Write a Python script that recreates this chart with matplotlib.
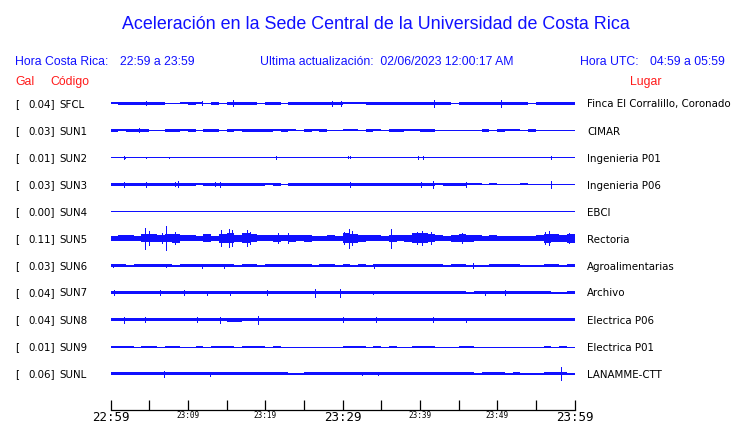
import matplotlib
matplotlib.use("Agg")
import matplotlib.pyplot as plt
import numpy as np

# estaciones
codes = ["SFCL", "SUN1", "SUN2", "SUN3", "SUN4", "SUN5", "SUN6", "SUN7", "SUN8", "SUN9", "SUNL"]
gal = [0.04, 0.03, 0.01, 0.03, 0.00, 0.11, 0.03, 0.04, 0.04, 0.01, 0.06]
places = ["Finca El Corralillo, Coronado", "CIMAR", "Ingenieria P01", "Ingenieria P06", "EBCI",
          "Rectoria", "Agroalimentarias", "Archivo", "Electrica P06", "Electrica P01", "LANAMME-CTT"]

# envolvente por minuto (media amplitud, px)
env_SFCL = [1.0,1.4,1.6,1.6,1.6,1.6,1.4,0.8,0.8,1.0, 1.2,1.0,0.8,1.4,0.9,1.4,1.6,1.4,1.1,0.8,
            1.2,1.2,0.9,1.4,1.6,1.6,1.6,1.6,1.7,1.7, 1.0,1.0,1.0,1.6,1.4,1.6,1.6,1.4,1.6,1.4,
            1.6,1.7,1.6,1.6,0.8,1.7,1.6,1.6,1.6,1.6, 1.7,1.6,1.6,1.6,0.8,1.4,1.4,1.2,1.2,1.2]
env_SUN1 = [1.1,1.0,1.1,1.3,1.2,0.9,0.8,1.5,1.5,1.0, 1.1,0.9,1.1,1.3,0.9,1.1,1.0,1.2,1.1,1.1,
            1.2,1.0,1.1,1.0,0.9,1.1,1.0,1.1,0.9,0.9, 1.0,1.0,0.8,1.3,1.0,0.7,1.2,1.2,1.0,1.0,
            1.1,1.1,0.7,0.9,0.5,0.8,0.9,0.9,1.1,0.8, 1.2,1.0,1.0,0.7,1.1,0.9,0.9,0.9,0.9,0.5]
env_SUN2 = [0,0,0,0,0,0,0,0,0,0, 0,0,0,0,0,0,0,0,0,0,
            0,0,0,0,0,0,0,0,0,0, 0,0,0,0,0,0,0,0,0,0,
            0,0,0,0,0,0,0,0,0,0, 0,0,0,0,0,0,0,0,0,0]
env_SUN3 = [1.5,1.5,1.5,1.5,1.5,1.5,1.5,1.5,1.5,1.5, 1.5,1.0,1.5,1.5,1.5,1.5,1.5,1.5,1.5,1.5,
            1.0,1.2,0.8,1.5,1.5,1.5,1.5,1.5,1.2,1.5, 1.5,1.5,1.5,1.5,1.5,1.5,1.5,1.2,1.5,1.5,
            1.5,1.5,1.0,1.2,1.2,1.2,1.0,1.0,0.8,1.0, 0.8,0.7,0.7,1.0,0.8,0.6,0.8,0.8,0.8,0.8]
env_SUN4 = [0,0,0,0,0,0,0,0,0,0, 0,0,0,0,0,0,0,0,0,0,
            0,0,0,0,0,0,0,0,0,0, 0,0,0,0,0,0,0,0,0,0,
            0,0,0,0,0,0,0,0,0,0, 0,0,0,0,0,0,0,0,0,0]
env_SUN5 = [2.5,3,3,2.5,4,4,3.5,4,4.5,3, 3,2.5,4,2.5,4.5,5,3.5,5,4,3,
            3,3.5,3,3.5,3,3.5,2.5,2.5,3,2.5, 5,4.5,3.5,3,3,2.5,3.5,3,3.5,5,
            5,4,3,2.5,3.5,4,3.5,3,2.5,3, 2.5,2.5,2.5,2.5,2.5,3,4.5,4,3.5,4.5]
env_SUN6 = [1.3,1.3,0.9,1.3,1.3,1.3,1.3,1.1,0.8,1.3, 1.1,1.1,1.1,1.1,1.1,1.1,0.7,1.3,1.3,0.9,
            1.1,1.3,1.3,1.3,1.3,1.3,0.7,1.3,1.3,0.9, 1.0,0.9,1.1,0.7,1.1,1.3,1.3,1.3,1.3,1.3,
            1.3,1.1,1.0,0.6,1.3,1.1,0.9,0.8,0.6,1.3, 1.3,1.1,1.0,0.6,0.8,0.6,1.1,1.0,0.7,1.1]
env_SUN7 = [1.6,1.6,1.6,1.6,1.6,1.6,1.6,1.6,1.6,1.6, 1.6,1.6,1.6,1.7,1.8,1.7,1.6,1.6,1.2,1.2,
            1.4,1.6,1.6,1.4,1.6,1.4,1.6,1.6,1.6,1.6, 1.6,1.6,1.2,1.2,1.2,1.2,1.1,1.1,1.4,1.6,
            1.6,1.6,1.6,1.8,1.6,1.6,0.9,1.0,1.4,1.4, 1.2,1.6,1.6,1.6,1.4,1.0,1.4,0.9,0.8,1.4]
env_SUN8 = [1.7,1.8,1.8,1.6,1.7,1.8,1.7,1.7,1.7,1.7, 1.7,1.8,1.8,1.8,1.8,2,2,1.6,1.9,1.9,
            1.8,1.8,1.6,1.6,1.6,1.8,1.8,1.6,1.8,1.6, 1.8,1.9,1.6,1.8,1.9,1.9,1.9,1.6,1.8,1.8,
            1.9,1.8,1.6,1.6,1.8,1.6,1.7,1.6,1.6,1.6, 1.6,1.6,1.6,1.6,1.7,1.6,1.7,1.6,1.6,1.6]
env_SUN9 = [0.8,1.0,0.7,0,1.0,0.6,0,1.0,0.6,0, 0,1.0,0,1.0,0.8,0.6,0,0.7,0.8,1.0,
            0,1.0,0,0,0,0,0,0,0,0, 1.0,1.0,0.6,0,0.6,0,0.6,0,0,1.0,
            0.8,0.8,0,0,0,0.8,0.8,0,0,0, 0,0,0,0,0,0,1.0,0,0.6,0]
env_SUNL = [1.3,1.3,1.3,1.3,1.3,1.3,1.4,1.3,1.3,1.3, 1.3,1.3,1.3,1.3,1.3,1.3,1.3,1.3,1.3,1.3,
            1.1,1.4,1.1,0.9,0.8,1.3,1.1,1.3,1.3,1.3, 1.1,1.3,1.3,1.3,1.3,1.3,1.3,1.3,1.3,1.3,
            1.3,1.3,1.3,1.3,1.3,1.1,1.1,0.8,1.1,1.1, 1.1,0.8,1.1,0.6,0.5,0.9,1.1,1.3,1.1,0.8]

# picos: (minuto, media amplitud px)
spk_SFCL = [(4.6, 2), (11.8, 2), (15.8, 3), (28.6, 2.5), (29.8, 2.5), (41.8, 3.8), (50.5, 3.3)]
spk_SUN1 = [(3.7, 2)]
spk_SUN2 = [(1.7, 1.2), (1.9, 0.8), (4.6, 0.8), (7.5, 0.8), (21.4, 1.2), (30.7, 1), (31.0, 1),
            (39.8, 1.2), (40.4, 1.2), (56.9, 1.5)]
spk_SUN3 = [(1.7, 2.5), (4.6, 2.2), (8.3, 2), (8.7, 3), (13.5, 2), (14.2, 2.5), (31.0, 2.2),
            (40.2, 2.2), (41.7, 3.5), (46.0, 2.5), (56.9, 3.5)]
spk_SUN4 = []
spk_SUN5 = [(4.5, 10.5), (5.0, 7), (6.7, 5), (7.2, 12), (8.3, 6), (14.3, 8), (15.3, 9), (15.7, 8),
            (17.6, 8), (18.0, 6), (21.6, 5), (23.0, 5), (30.2, 6), (30.8, 9.5), (31.2, 7),
            (36.3, 9.5), (39.6, 6), (40.3, 7), (41.5, 6), (45.5, 5), (56.2, 6), (56.7, 7), (59.3, 5)]
spk_SUN6 = [(0.3, 1.5), (7.2, 1.5), (11.8, 2), (14.7, 2), (34.1, 2), (46.9, 2.5)]
spk_SUN7 = [(0.4, 2.5), (6.4, 2.5), (9.5, 2.5), (12.5, 2), (15.5, 2), (20.3, 2.5), (26.4, 4),
            (29.7, 4), (34.0, 1.8), (48.4, 2), (51.0, 2.5)]
spk_SUN8 = [(1.8, 3), (4.5, 2.5), (11.2, 2.5), (14.2, 3), (19.1, 4), (30.0, 2.5), (34.3, 2.2),
            (41.7, 2.2), (46.0, 2)]
spk_SUN9 = []
spk_SUNL = [(6.9, 3), (12.9, 2), (32.5, 1.8), (34.6, 1.8), (58.3, 6.5)]

envs = [env_SFCL, env_SUN1, env_SUN2, env_SUN3, env_SUN4, env_SUN5, env_SUN6, env_SUN7,
        env_SUN8, env_SUN9, env_SUNL]
spikes = [spk_SFCL, spk_SUN1, spk_SUN2, spk_SUN3, spk_SUN4, spk_SUN5, spk_SUN6, spk_SUN7,
          spk_SUN8, spk_SUN9, spk_SUNL]

major_ticks = [0, 30, 60]
major_labels = ["22:59", "23:29", "23:59"]
minor_ticks = [5, 10, 15, 20, 25, 35, 40, 45, 50, 55]
minor_labels = ["", "23:09", "", "23:19", "", "", "23:39", "", "23:49", ""]

W, H = 740, 423
blue = "#1010ff"
red = "#ff1a1a"

fig = plt.figure(figsize=(W / 100, H / 100), dpi=100)

def px(x, y):
    return x / W, 1 - y / H

# ejes de las trazas
x0, x1, ytop, ybot = 110.5, 574.5, 90, 409.5
ax = fig.add_axes([x0 / W, 1 - ybot / H, (x1 - x0) / W, (ybot - ytop) / H])
row0, gap = 103.5, 27
ax.set_xlim(0, 60)
ax.set_ylim(ybot - row0, ytop - row0)

t = np.arange(61)
for i in range(len(codes)):
    yc = i * gap
    e = np.array(envs[i] + [envs[i][-1]], dtype=float)
    ax.fill_between(t, yc - e, yc + e, step="post", color=blue, lw=0)
    ax.hlines(yc, 0, 60, color=blue, lw=0.72, antialiased=False)
    if spikes[i]:
        st = [s[0] for s in spikes[i]]
        sh = np.array([s[1] for s in spikes[i]])
        ax.vlines(st, yc - sh, yc + sh, color=blue, lw=0.72, antialiased=False)

for s in ["left", "right", "top"]:
    ax.spines[s].set_visible(False)
ax.spines["bottom"].set_linewidth(0.9)
ax.set_yticks([])
ax.set_xticks(major_ticks)
ax.set_xticklabels(major_labels, family="DejaVu Sans Mono", fontsize=9)
ax.set_xticks(minor_ticks, minor=True)
ax.set_xticklabels(minor_labels, minor=True, family="DejaVu Sans Mono", fontsize=5.5)
ax.tick_params(axis="x", which="major", direction="in", length=7, width=0.9, pad=0.8)
ax.tick_params(axis="x", which="minor", direction="in", length=7, width=0.9, pad=1.0)

# textos
fig.text(*px(376, 29), "Aceleración en la Sede Central de la Universidad de Costa Rica",
         ha="center", va="baseline", color=blue, family="Liberation Sans", fontsize=12.9)
hdr = dict(va="baseline", color=blue, family="Liberation Sans", fontsize=8.8)
fig.text(*px(15, 65), "Hora Costa Rica:", **hdr)
fig.text(*px(120, 65), "22:59 a 23:59", **hdr)
fig.text(*px(260, 65), "Ultima actualización:  02/06/2023 12:00:17 AM", **hdr)
fig.text(*px(580, 65), "Hora UTC:", **hdr)
fig.text(*px(650, 65), "04:59 a 05:59", **hdr)
red_kw = dict(va="baseline", color=red, family="Liberation Sans", fontsize=8.8)
fig.text(*px(15, 85), "Gal", **red_kw)
fig.text(*px(50, 85), "Código", **red_kw)
fig.text(*px(630, 85), "Lugar", **red_kw)

lab = dict(va="baseline", color="black", family="DejaVu Sans", fontsize=7.4)
for i in range(len(codes)):
    yb = row0 + i * gap + 4
    fig.text(*px(15, yb), "[", **lab)
    fig.text(*px(55, yb), "%.2f]" % gal[i], ha="right", **lab)
    fig.text(*px(59, yb), codes[i], **lab)
    fig.text(*px(587, yb), places[i], **lab)

fig.savefig("out.png", dpi=100)
